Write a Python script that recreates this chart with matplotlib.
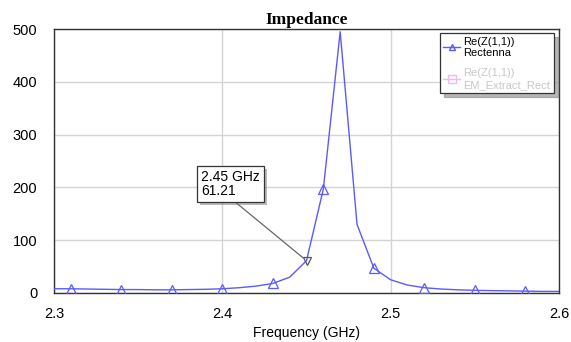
import matplotlib
matplotlib.use("Agg")
import matplotlib.pyplot as plt
import matplotlib.patheffects as pe
from matplotlib.lines import Line2D

plt.rcParams['font.family'] = ['Liberation Sans', 'DejaVu Sans']

# Re(Z(1,1)) of the rectenna, sampled every 10 MHz
freq = [2.30, 2.31, 2.32, 2.33, 2.34, 2.35, 2.36, 2.37, 2.38, 2.39, 2.40,
        2.41, 2.42, 2.43, 2.44, 2.45, 2.46, 2.47, 2.48, 2.49, 2.50,
        2.51, 2.52, 2.53, 2.54, 2.55, 2.56, 2.57, 2.58, 2.59, 2.60]
re_z = [8, 8, 7.5, 7, 6.5, 6.5, 6, 6, 6.5, 7, 8,
        10, 13, 18, 30, 61.21, 197, 495, 130, 47, 25,
        15, 10, 7.5, 6, 5, 4.5, 4, 3.5, 3, 3]
marker_freq = [2.31, 2.34, 2.37, 2.40, 2.43, 2.46, 2.49, 2.52, 2.55, 2.58]
marker_val = [8, 6.5, 6, 8, 18, 197, 47, 10, 5, 3.5]
mk_freq, mk_val = 2.45, 61.21

blue = '#5a5aff'

fig = plt.figure(figsize=(5.71, 3.42), dpi=100)
ax = fig.add_axes([0.0946, 0.1433, 0.8844, 0.7717])

ax.plot(freq, re_z, color=blue, lw=1.0, zorder=3)
ax.plot(marker_freq, marker_val, ls='none', marker='^', ms=6.5,
        mfc='none', mec=blue, mew=0.9, zorder=4)
ax.plot([mk_freq], [mk_val], ls='none', marker='v', ms=6,
        mfc='none', mec='#555555', mew=0.9, zorder=5)

ax.set_xlim(2.3, 2.6)
ax.set_ylim(0, 500)
ax.set_xticks([2.3, 2.4, 2.5, 2.6])
ax.set_xticklabels(['2.3', '2.4', '2.5', '2.6'])
ax.set_yticks([0, 100, 200, 300, 400, 500])
ax.tick_params(length=0, labelsize=10.5)
ax.tick_params(axis='x', pad=10)
ax.tick_params(axis='y', pad=12)
ax.grid(True, color='#d4d4d4', lw=1.0)
ax.set_axisbelow(True)
for s in ax.spines.values():
    s.set_color('#333333')
    s.set_linewidth(1.0)

ax.set_title('Impedance', family=['Liberation Serif', 'DejaVu Serif'],
             fontweight='bold', fontsize=12.5, pad=4)
ax.set_xlabel('Frequency (GHz)', fontsize=10, labelpad=4)

ann = ax.annotate('2.45 GHz\n61.21', xy=(mk_freq, mk_val), xytext=(201, 172),
                  textcoords='figure pixels', fontsize=10, ha='left', va='top',
                  linespacing=1.0,
                  bbox=dict(boxstyle='square,pad=0.3', fc='white', ec='#333333', lw=0.9),
                  arrowprops=dict(arrowstyle='-', color='#666666', lw=0.9,
                                  shrinkA=0, shrinkB=3, relpos=(0.5, 0.0)),
                  zorder=6)
ann.get_bbox_patch().set_path_effects([
    pe.SimplePatchShadow(offset=(2, -2), shadow_rgbFace='#777777', alpha=0.5),
    pe.Normal()])

handles = [Line2D([], [], color=blue, lw=1.0, marker='^', ms=5, mfc='none', mec=blue),
           Line2D([], [], color='#f4b6f4', lw=1.0, marker='s', ms=6, mfc='none', mec='#f4b6f4')]
labels = ['Re(Z(1,1))\nRectenna', 'Re(Z(1,1))\nEM_Extract_Rect']
leg = ax.legend(handles, labels, loc='upper right', bbox_to_anchor=(0.996, 0.997),
                fontsize=8, frameon=True, fancybox=False,
                shadow={'ox': 3, 'oy': -3, 'color': '#888888', 'alpha': 0.6},
                handlelength=1.5, handletextpad=0.3, labelspacing=0.9,
                borderpad=0.3, borderaxespad=0.3, edgecolor='#333333')
leg.get_frame().set_linewidth(0.9)
leg.get_texts()[1].set_color('#c8c8c8')

fig.savefig('out.png', dpi=100)
